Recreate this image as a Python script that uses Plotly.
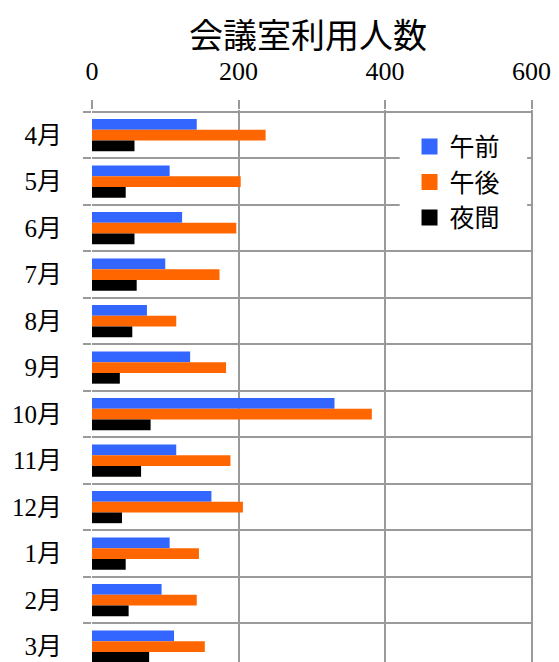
import plotly.graph_objects as go

# Meeting-room usage per month, split by time of day
months = ["4月", "5月", "6月", "7月", "8月", "9月", "10月", "11月", "12月", "1月", "2月", "3月"]
morning = [143, 106, 123, 100, 75, 134, 331, 115, 163, 106, 95, 112]
afternoon = [237, 203, 197, 174, 115, 183, 382, 189, 206, 146, 143, 154]
evening = [58, 46, 58, 61, 55, 38, 80, 67, 41, 46, 50, 78]

series_names = ["午前", "午後", "夜間"]
series_values = [morning, afternoon, evening]
series_colors = ["#3366FF", "#FF6600", "#000000"]

x_ticks = [0, 200, 400, 600]

FONT = "Liberation Serif, 'Noto Sans CJK JP', serif"
GRID = "#9a9a9a"

fig = go.Figure()

for name, vals, color in zip(series_names, series_values, series_colors):
    fig.add_trace(go.Bar(
        y=months, x=vals, name=name, orientation="h",
        marker=dict(color=color, line=dict(width=0)),
        showlegend=False,
    ))

# Legend entries drawn with square markers
for name, color in zip(series_names, series_colors):
    fig.add_trace(go.Scatter(
        x=[None], y=[None], mode="markers", name=name,
        marker=dict(symbol="square", size=16, color=color),
    ))

# White panel behind the legend, above gridlines but under the bars
fig.add_shape(
    type="rect", xref="x", yref="y",
    x0=420, x1=594, y0=-0.46, y1=2.46,
    fillcolor="white", line=dict(width=0), layer="between",
)

fig.update_layout(
    width=559, height=662,
    margin=dict(l=92, r=26, t=110, b=0),
    paper_bgcolor="white", plot_bgcolor="white",
    font=dict(family=FONT, color="black"),
    title=dict(
        text="会議室利用人数", x=0.49, xref="paper", xanchor="center",
        y=0.945, yref="container", yanchor="middle",
        font=dict(size=34, family=FONT, color="black"),
    ),
    barmode="group", bargap=0.31, bargroupgap=0,
    legend=dict(
        x=0.72, xanchor="left", y=0.975, yanchor="top",
        bgcolor="rgba(0,0,0,0)", borderwidth=0,
        font=dict(size=25, family=FONT, color="black"),
        itemsizing="trace",
    ),
    showlegend=True,
)

fig.update_xaxes(
    side="top", range=[0, 602], tickvals=x_ticks,
    ticks="outside", ticklen=9, tickwidth=2, tickcolor=GRID,
    showgrid=True, gridcolor=GRID, gridwidth=2,
    zeroline=False, showline=False,
    tickfont=dict(size=26, family=FONT, color="black"),
    ticklabelstandoff=10,
    fixedrange=True,
)

fig.update_yaxes(
    type="category", categoryorder="array", categoryarray=months,
    range=[11.33, -0.54],
    tickson="boundaries",
    ticks="outside", ticklen=8, tickwidth=2, tickcolor=GRID,
    showgrid=True, gridcolor=GRID, gridwidth=2,
    zeroline=False, showline=False,
    tickfont=dict(size=25, family=FONT, color="black"),
    ticklabelstandoff=29,
    fixedrange=True,
)

fig.write_html("out.html")
